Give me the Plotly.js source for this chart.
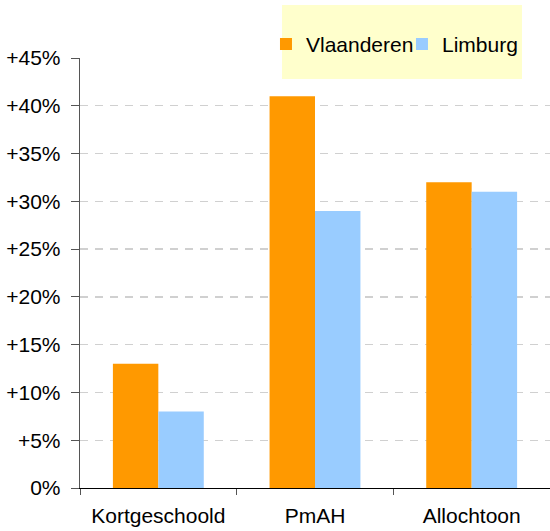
<!DOCTYPE html>
<html>
<head>
<meta charset="utf-8">
<script src="https://cdn.plot.ly/plotly-3.0.1.min.js"></script>
<style>html,body{margin:0;padding:0;background:#fff;}#chart{width:550px;height:531px;}</style>
</head>
<body>
<div id="chart"></div>
<script>
const categories = ["Kortgeschoold", "PmAH", "Allochtoon"];
const vlaanderen = [0.13, 0.41, 0.32];
const limburg = [0.08, 0.29, 0.31];
const yTickVals = [0, 0.05, 0.10, 0.15, 0.20, 0.25, 0.30, 0.35, 0.40, 0.45];
const yTickText = ["0%", "+5%", "+10%", "+15%", "+20%", "+25%", "+30%", "+35%", "+40%", "+45%"];

const axisFont = {family: "Liberation Sans, Arial, sans-serif", size: 21, color: "#000"};
const legendFont = {family: "Liberation Sans, Arial, sans-serif", size: 21, color: "#000"};

const data = [
  {type: "bar", name: "Vlaanderen", x: categories, y: vlaanderen, marker: {color: "#FF9900"}},
  {type: "bar", name: "Limburg", x: categories, y: limburg, marker: {color: "#99CCFF"}}
];

const layout = {
  width: 550, height: 531,
  margin: {l: 80, r: 0, t: 58, b: 43},
  paper_bgcolor: "#fff", plot_bgcolor: "#fff",
  font: axisFont,
  barmode: "group",
  bargap: 0.42, bargroupgap: 0,
  showlegend: true,
  legend: {orientation: "h", x: 0.3957, xanchor: "left", y: 1.032, yanchor: "middle",
           bgcolor: "rgba(0,0,0,0)", font: legendFont, traceorder: "normal",
           entrywidth: 91, entrywidthmode: "pixels"},
  xaxis: {
    type: "category", range: [-0.5, 2.5],
    showline: true, linecolor: "#000", linewidth: 1.3,
    ticks: "outside", tickson: "boundaries", ticklen: 6, tickcolor: "#555",
    showgrid: false, ticklabelstandoff: 8, tickfont: axisFont, fixedrange: true
  },
  yaxis: {
    range: [0, 0.45], tickvals: yTickVals, ticktext: yTickText,
    showline: true, linecolor: "#555", linewidth: 1.3,
    ticks: "outside", ticklen: 8, tickcolor: "#555",
    showgrid: true, gridcolor: "#d0d0d0", griddash: "8px,7px", gridwidth: 1.3,
    zeroline: false, tickfont: axisFont, ticklabelstandoff: 6, fixedrange: true
  },
  shapes: [{
    type: "rect", xref: "paper", yref: "paper",
    x0: 0.4298, x1: 0.9404, y0: 0.951, y1: 1.123,
    fillcolor: "#FFFFCC", line: {width: 0}, layer: "below"
  }]
};

Plotly.newPlot("chart", data, layout, {displayModeBar: false, staticPlot: true});
</script>
</body>
</html>
